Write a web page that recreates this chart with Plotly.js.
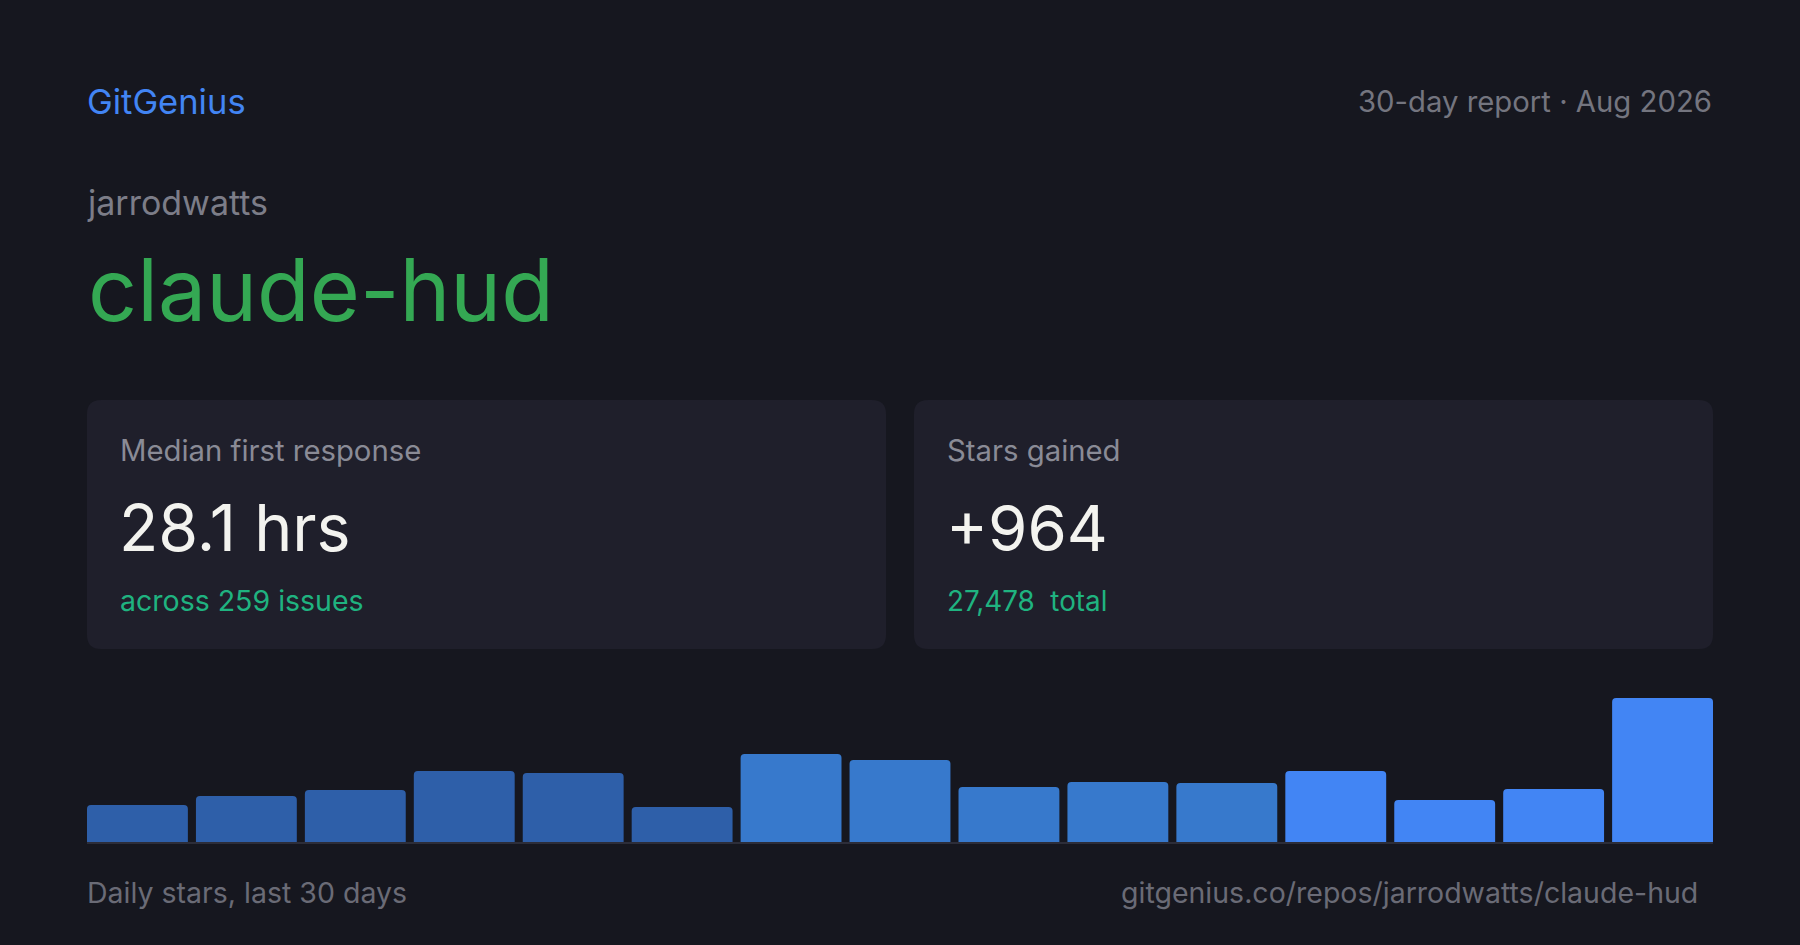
<!DOCTYPE html>
<html>
<head>
<meta charset="utf-8">
<script src="https://cdn.plot.ly/plotly-3.0.1.min.js"></script>
<style>
  html, body { margin: 0; padding: 0; background: #16171f; }
  #chart { width: 1800px; height: 945px; }
</style>
</head>
<body>
<div id="chart"></div>
<script>
// ---- data ----
const periods = ['Days 1–2','Days 3–4','Days 5–6','Days 7–8','Days 9–10','Days 11–12','Days 13–14','Days 15–16','Days 17–18','Days 19–20','Days 21–22','Days 23–24','Days 25–26','Days 27–28','Days 29–30'];
const dailyStars = [37, 46, 52, 71, 69, 35, 88, 82, 55, 60, 59, 71, 42, 53, 144];
const brand = 'GitGenius';
const reportLabel = '30-day report · Aug 2026';
const owner = 'jarrodwatts';
const repo = 'claude-hud';
const cardLabels = ['Median first response', 'Stars gained'];
const cardValues = ['28.1 hrs', '+964'];
const cardSubs = ['across 259 issues', '27,478  total'];
const footerLeft = 'Daily stars, last 30 days';
const footerRight = 'gitgenius.co/repos/jarrodwatts/claude-hud';

// ---- styles ----
const W = 1800, H = 945;
const BG = '#16171f', CARD = '#1f1f2b';
const tierColors = ['#2e5fa9', '#3779cc', '#4285f4'];
const barTier = [0,0,0,0,0,0,1,1,1,1,1,2,2,2,2];
const barColors = barTier.map(t => tierColors[t]);
const FONT = 'Inter, "Noto Sans", sans-serif';

const px = x => x / W;
const py = y => 1 - y / H;

function txt(text, x, baseline, size, color, anchor) {
  return {
    text: text, xref: 'paper', yref: 'paper',
    x: px(x), y: py(baseline + 0.242 * size + 1),
    xanchor: anchor || 'left', yanchor: 'bottom',
    showarrow: false, font: { family: FONT, size: size, color: color }
  };
}

function roundRect(x0, y0, x1, y1, r) {
  const rx = r / W, ry = r / H;
  const X0 = px(x0), X1 = px(x1), Y0 = py(y0), Y1 = py(y1);
  return {
    type: 'path', xref: 'paper', yref: 'paper', layer: 'below',
    path: `M ${X0 + rx} ${Y0} L ${X1 - rx} ${Y0} Q ${X1} ${Y0} ${X1} ${Y0 - ry} L ${X1} ${Y1 + ry} Q ${X1} ${Y1} ${X1 - rx} ${Y1} L ${X0 + rx} ${Y1} Q ${X0} ${Y1} ${X0} ${Y1 + ry} L ${X0} ${Y0 - ry} Q ${X0} ${Y0} ${X0 + rx} ${Y0} Z`,
    fillcolor: CARD, line: { width: 0 }
  };
}

const gap = 0.074;
const half = (1 - gap) / 2;

const trace = {
  type: 'bar', x: periods, y: dailyStars,
  marker: { color: barColors, cornerradius: 4, line: { width: 0 } },
  hoverinfo: 'skip'
};

const cardLeft = [87, 914], cardRight = [886, 1713];
const annotations = [
  txt(brand, 85, 115, 34.5, '#4285f4'),
  txt(reportLabel, 1714, 113, 29.3, '#74757f', 'right'),
  txt(owner, 85, 216, 34, '#7c7d88'),
  txt(repo, 86, 322, 86, '#34a853'),
  txt(footerLeft, 85, 904.5, 28.5, '#6a6b76'),
  txt(footerRight, 1700, 904.5, 28.5, '#6a6b76', 'right')
];
const valueSizes = [64.5, 63.5];
const subSizes = [28.5, 27.8];
for (let i = 0; i < 2; i++) {
  annotations.push(txt(cardLabels[i], cardLeft[i] + 31, 461.5, 29.3, '#8a8b96'));
  annotations.push(txt(cardValues[i], cardLeft[i] + 30, 552, valueSizes[i], '#f3f3ef'));
  annotations.push(txt(cardSubs[i], cardLeft[i] + 31, 612, subSizes[i], '#1fb380'));
}

const layout = {
  width: W, height: H,
  margin: { l: 0, r: 0, t: 0, b: 0, pad: 0 },
  paper_bgcolor: BG, plot_bgcolor: 'rgba(0,0,0,0)',
  showlegend: false,
  bargap: gap,
  xaxis: {
    type: 'category', domain: [px(87), px(1713)],
    range: [-half, dailyStars.length - 1 + half],
    showgrid: false, zeroline: false, showticklabels: false, ticks: '', showline: false, fixedrange: true
  },
  yaxis: {
    domain: [py(842), py(698)], range: [0, 144],
    showgrid: false, zeroline: false, showticklabels: false, ticks: '', showline: false, fixedrange: true
  },
  shapes: [
    roundRect(cardLeft[0], 400, cardRight[0], 649, 14),
    roundRect(cardLeft[1], 400, cardRight[1], 649, 14),
    { type: 'line', xref: 'paper', yref: 'paper', x0: px(87), x1: px(1713), y0: py(843), y1: py(843),
      line: { color: '#2c2d39', width: 2 }, layer: 'above' }
  ],
  annotations: annotations
};

Plotly.newPlot('chart', [trace], layout, { displayModeBar: false, staticPlot: true });
</script>
</body>
</html>
